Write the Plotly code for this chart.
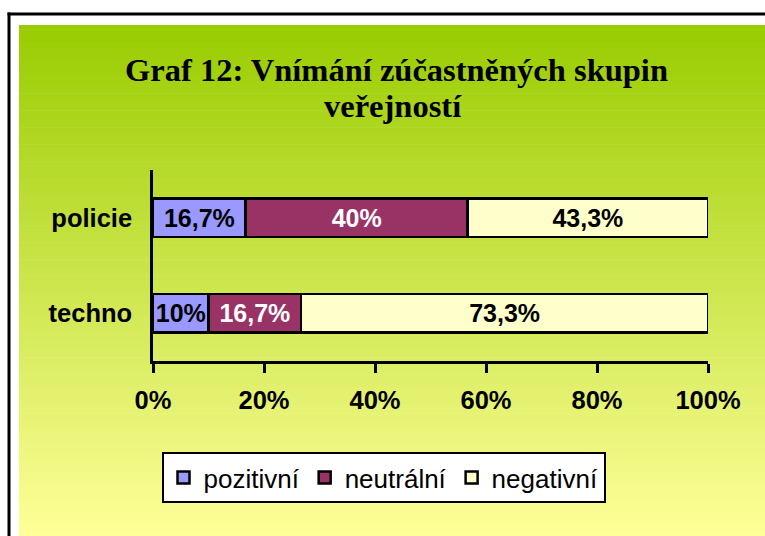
import plotly.graph_objects as go

categories = ["techno", "policie"]
series_names = ["pozitivní", "neutrální", "negativní"]
pozitivni = [10.0, 16.7]
neutralni = [16.7, 40.0]
negativni = [73.3, 43.3]
tick_vals = [0, 20, 40, 60, 80, 100]
tick_text = ["0%", "20%", "40%", "60%", "80%", "100%"]
title_line1 = "Graf 12: Vnímání zúčastněných skupin"
title_line2 = "veřejností"

colors = ["#9999FF", "#993366", "#FFFFCC"]
text_colors = ["black", "white", "black"]

W, H = 765, 536
L, R, T, B = 153, 708, 170, 361


def X(px):
    return (px - L) / (R - L)


def Y(py):
    return (B - py) / (B - T)


def fmt(v):
    s = ("%.1f" % v).rstrip("0").rstrip(".")
    return s.replace(".", ",") + "%"


fig = go.Figure()
for name, vals, col, tc in zip(series_names, [pozitivni, neutralni, negativni], colors, text_colors):
    fig.add_trace(go.Bar(
        y=categories, x=vals, name=name, orientation="h",
        marker=dict(color=col, line=dict(color="black", width=2.5)),
        text=[fmt(v) for v in vals], textposition="inside",
        insidetextanchor="middle", textangle=0,
        textfont=dict(family="Liberation Sans", size=25, color=tc, weight="bold"),
        hoverinfo="skip",
    ))

shapes = []
# gradient background
top_c = (153, 204, 0)
bot_c = (255, 255, 153)
y_start, y_end = 25, 536
n = 120
step = (y_end - y_start) / n
for i in range(n):
    t = (i + 0.5) / n
    c = tuple(int(round(a + (b - a) * t)) for a, b in zip(top_c, bot_c))
    shapes.append(dict(
        type="rect", xref="paper", yref="paper", layer="below",
        x0=X(19), x1=X(765), y0=Y(y_start + i * step), y1=Y(min(y_end, y_start + (i + 1) * step + 0.6)),
        fillcolor="rgb(%d,%d,%d)" % c, line=dict(width=0),
    ))
# outer frame (left and top edges visible)
shapes.append(dict(type="line", xref="paper", yref="paper", layer="below",
                   x0=X(9), x1=X(9), y0=Y(12.5), y1=Y(536),
                   line=dict(color="black", width=3)))
shapes.append(dict(type="line", xref="paper", yref="paper", layer="below",
                   x0=X(7.5), x1=X(765), y0=Y(14), y1=Y(14),
                   line=dict(color="black", width=3)))

annotations = [
    dict(text="<b>%s</b>" % title_line1, xref="paper", yref="paper",
         x=X(396), y=Y(70), xanchor="center", yanchor="middle", showarrow=False,
         font=dict(family="Liberation Serif", size=32.5, color="black")),
    dict(text="<b>%s</b>" % title_line2, xref="paper", yref="paper",
         x=X(393), y=Y(106), xanchor="center", yanchor="middle", showarrow=False,
         font=dict(family="Liberation Serif", size=32.5, color="black")),
]

fig.update_layout(
    width=W, height=H,
    margin=dict(l=L, r=W - R, t=T, b=H - B, pad=0),
    paper_bgcolor="white", plot_bgcolor="rgba(0,0,0,0)",
    barmode="stack", bargap=0.6,
    shapes=shapes, annotations=annotations,
    uniformtext=dict(minsize=25, mode="show"),
    showlegend=True,
    legend=dict(
        orientation="h", x=X(383.5), y=Y(452), xanchor="center", yanchor="top",
        bgcolor="white", bordercolor="black", borderwidth=2,
        font=dict(family="Liberation Sans", size=26, color="black"),
        traceorder="normal", itemwidth=30,
    ),
    xaxis=dict(
        range=[0, 100], tickvals=tick_vals, ticktext=tick_text,
        showgrid=False, zeroline=False, showline=True, linecolor="black", linewidth=2.5,
        ticks="outside", ticklen=9, tickwidth=2.5, tickcolor="black",
        ticklabelstandoff=6,
        tickfont=dict(family="Liberation Sans", size=25.5, color="black", weight="bold"),
        fixedrange=True,
    ),
    yaxis=dict(
        showgrid=False, zeroline=False, showline=True, linecolor="black", linewidth=2.5,
        ticks="", ticklabelstandoff=13,
        tickfont=dict(family="Liberation Sans", size=25.5, color="black", weight="bold"),
        fixedrange=True,
    ),
)

fig.write_html(
    "out.html",
    config={"displayModeBar": False},
    post_script="document.body.style.margin='0';document.body.style.overflow='hidden';",
)
